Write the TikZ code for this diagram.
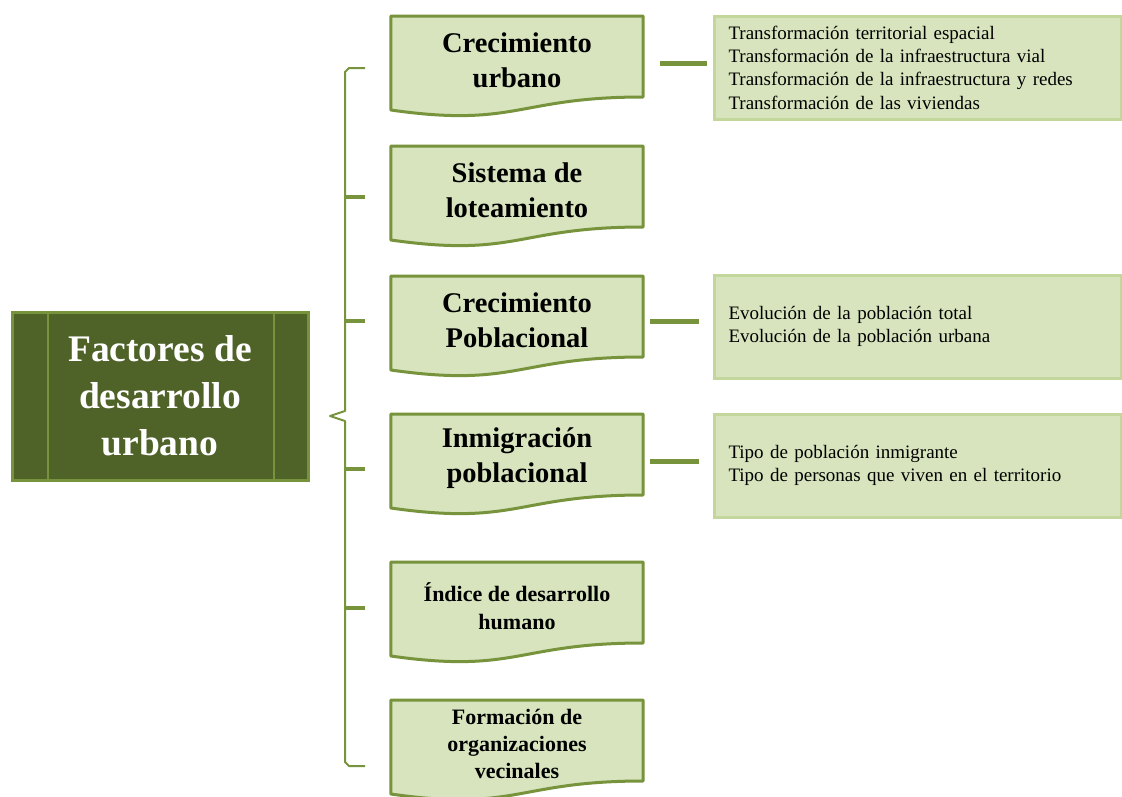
\documentclass[tikz,border=0pt]{standalone}
\usepackage{fontspec}
\setmainfont{Liberation Serif}
\usetikzlibrary{calc,backgrounds}
\definecolor{oliveline}{HTML}{77933C}
\definecolor{darkolive}{HTML}{4F6228}
\definecolor{docfill}{HTML}{D7E4BD}
\definecolor{paleline}{HTML}{C3D69B}
% wavy "document" outline behind a doc node
\newcommand{\wavebox}[1]{%
	\begin{scope}[on background layer]
		\draw[oliveline, line width=3pt, fill=docfill, line join=round] (#1.north west) -- (#1.north east) -- ($(#1.north east)+(0,81)$) .. controls ($(#1.north)+(0,81)$) and ($(#1.north)+(0,112)$) .. ($(#1.north west)+(0,94)$) -- cycle;
	\end{scope}}
\begin{document}
\begin{tikzpicture}[x=1pt, y=-1pt,
	main/.style = {draw=oliveline, line width=3pt, fill=darkolive, minimum width=296pt, minimum height=168pt, text=white, align=center, font=\fontsize{37.5}{47}\selectfont\bfseries},
	doc/.style = {minimum width=252pt, minimum height=88pt, anchor=north, align=center, inner sep=0pt, font=\fontsize{28.5}{35}\selectfont\bfseries},
	det/.style = {draw=paleline, line width=3pt, fill=docfill, minimum height=103pt, anchor=west, text width=379pt, align=left, inner xsep=14pt, inner ysep=4pt, font=\fontsize{19}{23.3}\selectfont},
	link/.style = {draw=oliveline, line width=4.5pt},
	brace/.style = {draw=oliveline, line width=2pt, line join=round}]
	\useasboundingbox (0,0) rectangle (1122,796);
	\node[main] (f) at (160,396) {Factores de\\desarrollo\\urbano};
	\draw[oliveline, line width=2pt] ([xshift=37pt]f.north west) -- ([xshift=37pt]f.south west);
	\draw[oliveline, line width=2pt] ([xshift=-36pt]f.north east) -- ([xshift=-36pt]f.south east);
	\node[doc] (d1) at (517,16) {Crecimiento\\urbano};
	\node[doc] (d2) at (517,146) {Sistema de\\loteamiento};
	\node[doc] (d3) at (517,276) {Crecimiento\\Poblacional};
	\node[doc] (d4) at (517,414) {Inmigración\\poblacional};
	\node[doc, font=\fontsize{22}{28}\selectfont\bfseries] (d5) at (517,562) {Índice de desarrollo\\humano};
	\node[doc, font=\fontsize{22}{27}\selectfont\bfseries] (d6) at (517,700) {Formación de\\organizaciones\\vecinales};
	\foreach \n in {1,...,6} \wavebox{d\n};
	\node[det] (t1) at (713,67.5) {Transformación territorial espacial\\Transformación de la infraestructura vial\\Transformación de la infraestructura y redes\\Transformación de las viviendas};
	\node[det] (t2) at (713,326.5) {Evolución de la población total\\Evolución de la población urbana};
	\node[det] (t3) at (713,465.5) {Tipo de población inmigrante\\Tipo de personas que viven en el territorio};
	\draw[link, shorten <=17pt, shorten >=6pt] ($(t1.west -| d1.east)+(0,-4)$) -- ($(t1.west)+(0,-4)$);
	\draw[link, shorten <=7pt, shorten >=14pt] ($(t2.west -| d3.east)+(0,-5)$) -- ($(t2.west)+(0,-5)$);
	\draw[link, shorten <=7pt, shorten >=14pt] ($(t3.west -| d4.east)+(0,-4)$) -- ($(t3.west)+(0,-4)$);
	% brace
	\draw[brace] (365,68) -- (349,68) -- (345,72) -- (345,411) -- (330,416) -- (345,421) -- (345,762) -- (349,766) -- (365,766);
	\foreach \y in {197,321,469,608} \draw[oliveline, line width=4pt] (345,\y) -- (365,\y);
\end{tikzpicture}
\end{document}
